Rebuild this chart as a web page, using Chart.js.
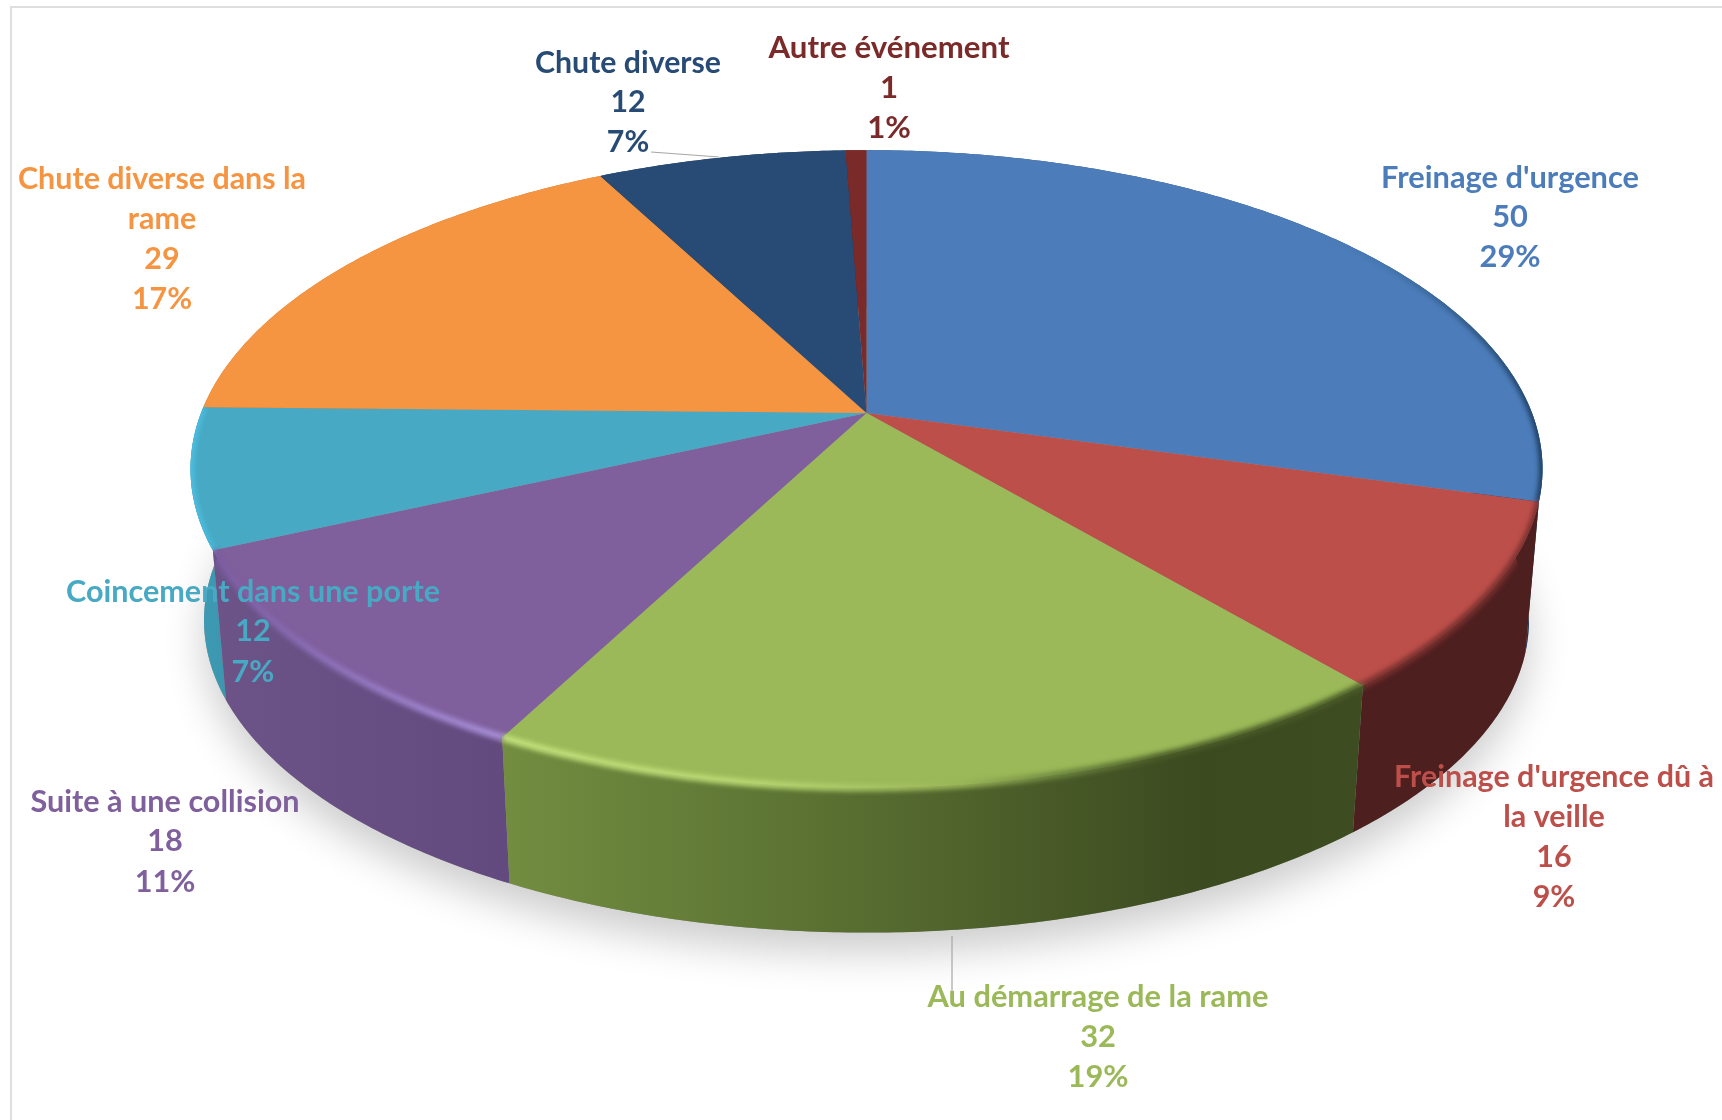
<!DOCTYPE html>
<html lang="fr">
<head>
<meta charset="utf-8">
<title>Chutes par circonstance</title>
<script src="https://cdn.jsdelivr.net/npm/chart.js@4/dist/chart.umd.js"></script>
<style>
    html, body { margin: 0; padding: 0; background: #ffffff; overflow: hidden; }
    canvas { display: block; }
</style>
</head>
<body>
<canvas id="camembert" width="1722" height="1120"></canvas>
<script>
const categories = [
    "Freinage d'urgence",
    "Freinage d'urgence dû à la veille",
    "Au démarrage de la rame",
    "Suite à une collision",
    "Coincement dans une porte",
    "Chute diverse dans la rame",
    "Chute diverse",
    "Autre événement"
];
const values = [50, 16, 32, 18, 12, 29, 12, 1];
const colors = ["#4c7dba", "#bd4f4a", "#9bb958", "#7f5f9c", "#47a9c3", "#f59441", "#284b75", "#7a2a28"];

// label placement, same order as categories
const labelBoxes = [
    { x: 1510, y: [178, 217, 257], width: 258, lines: ["Freinage d'urgence"] },
    { x: 1554, y: [777, 817, 857, 897], width: 320, lines: ["Freinage d'urgence dû à", "la veille"] },
    { x: 1098, y: [997, 1037, 1077], width: 341, lines: ["Au démarrage de la rame"] },
    { x: 165, y: [802, 841, 882], width: 269, lines: ["Suite à une collision"] },
    { x: 253, y: [592, 631, 672], width: 374, lines: ["Coincement dans une porte"] },
    { x: 162, y: [179, 219, 259, 299], width: 288, lines: ["Chute diverse dans la", "rame"] },
    { x: 628, y: [63, 102, 142], width: 186, lines: ["Chute diverse"] },
    { x: 889, y: [48, 88, 128], width: 241, lines: ["Autre événement"] }
];

// wall and rim shading: [screen x, colour]
const wallStops = [
    [[1400, "#2a5280"], [1540, "#17304f"]],
    [[1350, "#4e1f1f"], [1540, "#4e1f1f"]],
    [[506, "#728d40"], [800, "#5c7333"], [1000, "#4c5f2a"], [1200, "#3c4a20"], [1360, "#3e4c21"]],
    [[210, "#6d5488"], [510, "#624a7e"]],
    [[190, "#3f9cb6"], [240, "#3a93ab"]],
    [[0, "#c67535"], [1722, "#c67535"]],
    [[0, "#1f3b5c"], [1722, "#1f3b5c"]],
    [[0, "#5e1f1e"], [1722, "#5e1f1e"]]
];
const rimStops = [
    [[1300, "rgba(76, 125, 186, 0)"], [1450, "#34608f"], [1545, "#1c3c60"]],
    [[1350, "#79302e"], [1540, "#79302e"]],
    [[506, "#c4e27c"], [760, "#b9d873"], [960, "#9ab558"], [1060, "#6d8640"], [1160, "#4a5c28"], [1360, "#4a5c28"]],
    [[210, "#7a5ba0"], [380, "#967ac4"], [510, "#aa92dc"]],
    [[188, "#4cc0e4"], [240, "#45b2d2"]],
    null,
    null,
    null
];

// perspective of the disc, fitted on the picture
const hubX = 866.5;
const hubY = 413;
const radiusX = 665.5;
const radiusY = 309;
const tilt = -0.1755;
const vanishX = 866;
const vanishY = 8030;
const bottomScale = 0.98;

function project(angle, bottom) {
    const u = Math.cos(angle);
    const v = Math.sin(angle);
    const w = 1 + tilt * v;
    const x = hubX + radiusX * u / w;
    const y = hubY + radiusY * v / w;
    if (!bottom) return { x, y };
    return {
        x: vanishX + bottomScale * (x - vanishX),
        y: vanishY + bottomScale * (y - vanishY)
    };
}

function arcPoints(start, end, bottom) {
    const steps = Math.max(4, Math.ceil((end - start) / 0.01));
    const points = [];
    for (let i = 0; i <= steps; i++) {
        points.push(project(start + (end - start) * i / steps, bottom));
    }
    return points;
}

function tracePoints(ctx, points, first) {
    points.forEach((p, i) => {
        if (i === 0 && first) ctx.moveTo(p.x, p.y);
        else ctx.lineTo(p.x, p.y);
    });
}

function makeGradient(ctx, stops) {
    const left = stops[0][0];
    const right = stops[stops.length - 1][0];
    const gradient = ctx.createLinearGradient(left, 0, right, 0);
    stops.forEach(([x, color]) => gradient.addColorStop((x - left) / (right - left), color));
    return gradient;
}

// top face of each slice goes through the perspective instead of a flat arc
Chart.ArcElement.prototype.draw = function (ctx) {
    const { startAngle, endAngle } = this.getProps(["startAngle", "endAngle"]);
    ctx.save();
    ctx.beginPath();
    ctx.moveTo(hubX, hubY);
    tracePoints(ctx, arcPoints(startAngle, endAngle, false), false);
    ctx.closePath();
    ctx.fillStyle = this.options.backgroundColor;
    ctx.fill();
    ctx.restore();
};

const pieBody = {
    id: "pieBody",
    beforeDraw(chart) {
        const ctx = chart.ctx;
        ctx.save();
        ctx.strokeStyle = "#dedede";
        ctx.lineWidth = 2;
        ctx.beginPath();
        ctx.moveTo(11, 1120);
        ctx.lineTo(11, 7);
        ctx.lineTo(1722, 7);
        ctx.stroke();
        ctx.restore();
    },
    beforeDatasetsDraw(chart) {
        const ctx = chart.ctx;
        const arcs = chart.getDatasetMeta(0).data;

        // soft shadow under the disc
        ctx.save();
        ctx.shadowColor = "rgba(0, 0, 0, 0.2)";
        ctx.shadowBlur = 40;
        ctx.shadowOffsetY = 20;
        ctx.fillStyle = "#999999";
        ctx.beginPath();
        tracePoints(ctx, arcPoints(0, Math.PI * 2, true), true);
        ctx.closePath();
        ctx.fill();
        ctx.restore();

        // walls, back slices first
        const order = arcs.map((arc, i) => i).sort((a, b) => {
            const midA = (arcs[a].startAngle + arcs[a].endAngle) / 2;
            const midB = (arcs[b].startAngle + arcs[b].endAngle) / 2;
            return Math.sin(midA) - Math.sin(midB);
        });
        order.forEach((i) => {
            const top = arcPoints(arcs[i].startAngle, arcs[i].endAngle, false);
            const bottom = arcPoints(arcs[i].startAngle, arcs[i].endAngle, true).reverse();
            ctx.save();
            ctx.beginPath();
            tracePoints(ctx, top, true);
            tracePoints(ctx, bottom, false);
            ctx.closePath();
            ctx.fillStyle = makeGradient(ctx, wallStops[i]);
            ctx.fill();
            ctx.restore();
        });
    },
    afterDatasetsDraw(chart) {
        const ctx = chart.ctx;
        const arcs = chart.getDatasetMeta(0).data;

        // bevel along the front edge of the top face, kept inside the body outline
        arcs.forEach((arc, i) => {
            if (!rimStops[i]) return;
            ctx.save();
            ctx.beginPath();
            tracePoints(ctx, arcPoints(0, Math.PI * 2, false), true);
            ctx.closePath();
            tracePoints(ctx, arcPoints(0, Math.PI * 2, true), true);
            ctx.closePath();
            ctx.clip();
            ctx.beginPath();
            tracePoints(ctx, arcPoints(arc.startAngle, arc.endAngle, false), true);
            ctx.strokeStyle = makeGradient(ctx, rimStops[i]);
            ctx.lineWidth = 7;
            ctx.filter = "blur(2.4px)";
            ctx.stroke();
            ctx.restore();
        });

        // leader lines
        ctx.save();
        ctx.strokeStyle = "#a6a6a6";
        ctx.lineWidth = 1.2;
        ctx.beginPath();
        ctx.moveTo(651, 152);
        ctx.lineTo(719, 157);
        ctx.moveTo(952, 936);
        ctx.lineTo(952, 995);
        ctx.stroke();
        ctx.restore();

        drawLabels(ctx);
    }
};

function drawLabels(ctx) {
    const total = values.reduce((sum, value) => sum + value, 0);
    ctx.save();
    ctx.textAlign = "center";
    ctx.textBaseline = "middle";
    ctx.font = "bold 30px Lato";
    ctx.filter = "blur(0.4px)";
    labelBoxes.forEach((box, i) => {
        const lines = [...box.lines, String(values[i]), Math.round(values[i] / total * 100) + "%"];
        const stretch = box.width / ctx.measureText(lines[0]).width;
        ctx.fillStyle = colors[i];
        lines.forEach((line, n) => {
            ctx.save();
            ctx.translate(box.x, box.y[n]);
            ctx.scale(stretch, 1);
            ctx.fillText(line, 0, 0);
            ctx.restore();
        });
    });
    ctx.restore();
}

new Chart(document.getElementById("camembert"), {
    type: "pie",
    data: {
        labels: categories,
        datasets: [{ data: values, backgroundColor: colors, borderWidth: 0 }]
    },
    options: {
        responsive: false,
        animation: false,
        events: [],
        plugins: {
            legend: { display: false },
            tooltip: { enabled: false }
        }
    },
    plugins: [pieBody]
});
</script>
</body>
</html>
